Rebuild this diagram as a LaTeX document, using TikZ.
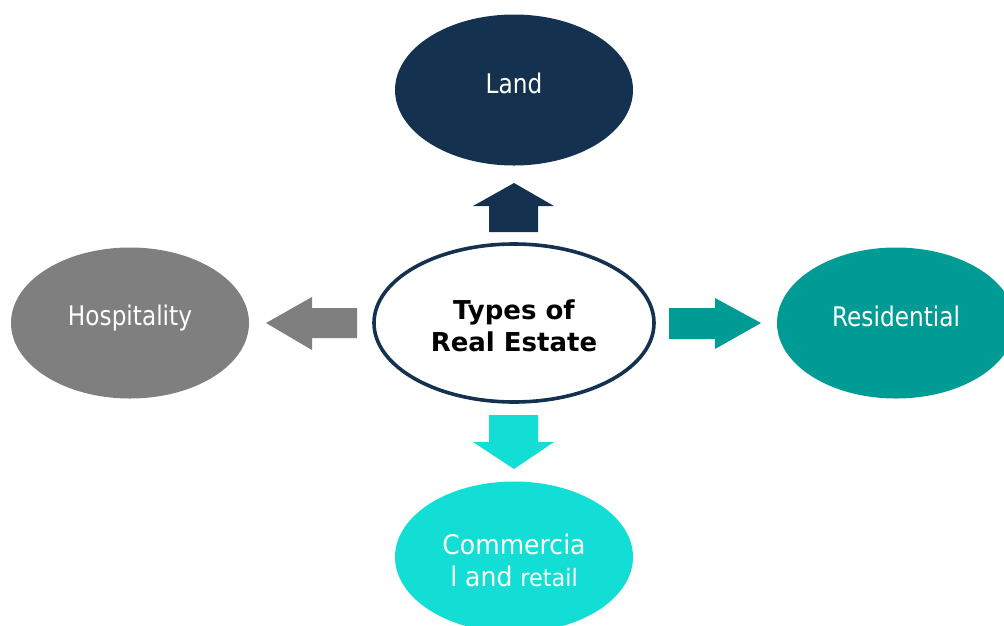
\documentclass[tikz,border=0pt]{standalone}
\usepackage{fontspec}
\setmainfont{DejaVu Sans}
\newfontfamily\lblfont[FakeStretch=0.86]{DejaVu Sans}
\newfontfamily\widelblfont[FakeStretch=0.93]{DejaVu Sans}
\usetikzlibrary{shapes.geometric}
\definecolor{navy}{HTML}{14324F}
\definecolor{grayc}{HTML}{7F7F7F}
\definecolor{tealc}{HTML}{009B95}
\definecolor{cyanc}{HTML}{12DED5}
\tikzset{
  blob/.style={ellipse, minimum width=238pt, minimum height=151pt, inner sep=0pt},
  lbl/.style={text=white, font=\lblfont\fontsize{27}{32}\selectfont, align=center, inner sep=0pt},
  blockarrow/.style={draw=none}
}
\begin{document}
\begin{tikzpicture}[x=1pt,y=-1pt]
\useasboundingbox (0,0) rectangle (1004,625);
\clip (0,0) rectangle (1004,625);
% outer ellipses
\node[blob, fill=navy] (land) at (514,90) {};
\node[blob, fill=grayc] (hosp) at (130,323) {};
\node[blob, fill=tealc] (resi) at (896,323) {};
\node[blob, fill=cyanc] (comm) at (514,557) {};
% center
\node[ellipse, draw=navy, line width=3.6pt, fill=white, minimum width=280pt, minimum height=158pt, inner sep=0pt] (center) at (514,323) {};
% labels
\node[lbl] (landtxt) at ([yshift=7pt]land.center) {Land};
\node[lbl] (hosptxt) at ([yshift=5pt]hosp.center) {Hospitality};
\node[lbl] (resitxt) at ([yshift=7pt]resi.center) {Residential};
\node[lbl, font=\widelblfont\fontsize{27}{32}\selectfont] (commtxt) at ([yshift=-3pt]comm.center) {Commercia\\l and {\fontsize{24}{32}\selectfont retail}};
\node[text=black, font=\bfseries\fontsize{26}{32}\selectfont, align=center, inner sep=0pt] (centertxt) at ([yshift=-3pt]center.center) {Types of\\Real Estate};
% block arrows
\fill[navy, blockarrow] (489,232) -- (489,206) -- (473,206) -- (514,183) -- (554,206) -- (538,206) -- (538,232) -- cycle;
\fill[grayc, blockarrow] (357,308) -- (312,308) -- (312,297) -- (266,323) -- (312,350) -- (312,338) -- (357,338) -- cycle;
\fill[tealc, blockarrow] (669,308) -- (715,308) -- (715,298) -- (761,323) -- (715,349) -- (715,339) -- (669,339) -- cycle;
\fill[cyanc, blockarrow] (489,415) -- (489,442) -- (473,442) -- (514,469) -- (554,442) -- (538,442) -- (538,415) -- cycle;
\end{tikzpicture}
\end{document}
